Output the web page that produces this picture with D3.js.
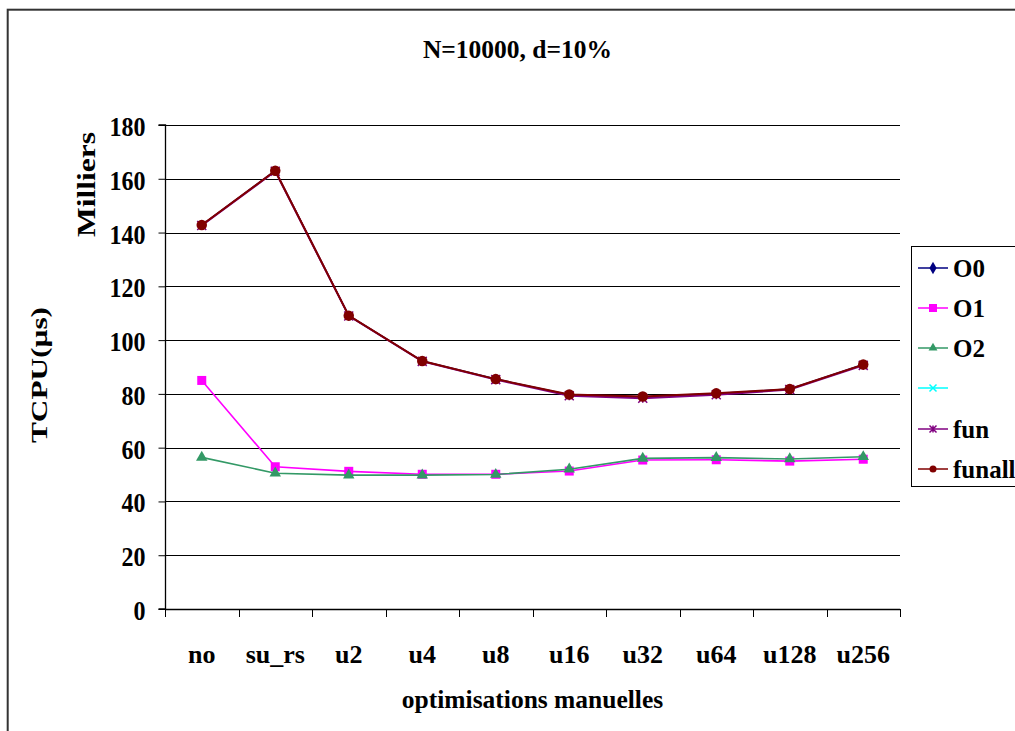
<!DOCTYPE html>
<html><head><meta charset="utf-8">
<script src="https://cdn.jsdelivr.net/npm/d3@7"></script>
<style>body{margin:0;background:#fff}svg{display:block}text{font-family:"Liberation Serif","Times New Roman",serif;font-weight:bold;fill:#000}</style>
</head><body><svg id="c" width="1015" height="731"></svg>
<script>
const title = "N=10000, d=10%";
const categories = ["no","su_rs","u2","u4","u8","u16","u32","u64","u128","u256"];
const yTicks = [0,20,40,60,80,100,120,140,160,180];
const seriesNames = ["O0","O1","O2","","fun","funall"];
const seriesColors = ["#000080","#ff00ff","#339966","#00ffff","#800080","#800000"];
const seriesMarkers = ["diamond","square","triangle","x","star","circle"];
const O0 = [142.8,163.0,109.1,92.2,85.5,79.7,78.9,80.1,81.8,90.9];
const O1 = [85.0,52.9,51.2,50.1,50.1,51.3,55.4,55.5,55.0,55.7];
const O2 = [56.4,50.5,49.8,49.8,50.0,52.0,56.0,56.3,55.8,56.6];
const blank = [];
const fun = [142.6,162.8,109.0,92.1,85.3,79.3,78.4,79.7,81.6,90.6];
const funall = [142.8,163.0,109.1,92.2,85.5,79.8,79.0,80.2,81.8,90.9];
const seriesValues = [O0,O1,O2,blank,fun,funall];

const svg = d3.select("#c");
const L=165,R=900,T=125,B=609;
const x = d3.scaleBand().domain(categories).range([L,R]);
const y = d3.scaleLinear().domain([0,180]).range([B,T]);

// outer frame
svg.append("rect").attr("x",7.7).attr("y",9.7).attr("width",1030).attr("height",740).attr("fill","#fff").attr("stroke","#333").attr("stroke-width",2);

svg.append("text").attr("x",517.5).attr("y",58).attr("text-anchor","middle").attr("font-size",25.5).text(title);

// grid
svg.append("g").selectAll("line").data(yTicks.filter(d=>d>0)).join("line")
  .attr("x1",L).attr("x2",R).attr("y1",d=>Math.round(y(d))+0.5).attr("y2",d=>Math.round(y(d))+0.5)
  .attr("stroke","#000").attr("stroke-width",1);

// y axis
const ya = svg.append("g").attr("transform",`translate(${L+0.5},0)`)
  .call(d3.axisLeft(y).tickValues(yTicks).tickSize(7).tickPadding(4));
ya.select(".domain").attr("stroke","#000").attr("stroke-width",1.3).attr("d",`M-7,${B}H0V${T}H-7`);
ya.selectAll(".tick line").attr("stroke","#000");
ya.selectAll("text").attr("x",0).attr("dy",null).attr("y",null)
  .attr("transform","translate(-20,10.5) scale(1,1.15)")
  .attr("font-size",24).attr("font-family","Liberation Serif").attr("font-weight","bold").attr("fill","#000");

// x axis
const xa = svg.append("g").attr("transform",`translate(0,${B+0.5})`)
  .call(d3.axisBottom(x).tickSize(0).tickPadding(0));
xa.select(".domain").attr("stroke","#000").attr("stroke-width",1.3).attr("d",`M${L},0H${R}`);
xa.selectAll("text").attr("y",53).attr("dy",null)
  .attr("font-size",26).attr("font-family","Liberation Serif").attr("font-weight","bold").attr("fill","#000");
const tickPos = categories.map(c=>x(c)).concat([R]);
svg.append("g").selectAll("line").data(tickPos).join("line")
  .attr("x1",d=>Math.round(d)+0.5).attr("x2",d=>Math.round(d)+0.5).attr("y1",B).attr("y2",B+8).attr("stroke","#000");

svg.append("text").attr("x",532.5).attr("y",708).attr("text-anchor","middle").attr("font-size",25.5).text("optimisations manuelles");
svg.append("text").attr("transform","translate(47,375) rotate(-90)").attr("text-anchor","middle").attr("font-size",23)
  .attr("textLength",136).attr("lengthAdjust","spacingAndGlyphs").text("TCPU(µs)");
svg.append("text").attr("transform","translate(95,184.5) rotate(-90)").attr("text-anchor","middle").attr("font-size",25.5)
  .attr("textLength",105).attr("lengthAdjust","spacingAndGlyphs").text("Milliers");

function marker(g,type,color,cx,cy,s){
  if(type==="diamond") g.append("path").attr("d",d3.symbol(d3.symbolDiamond,s*s*0.9)()).attr("transform",`translate(${cx},${cy})`).attr("fill",color);
  else if(type==="square") g.append("rect").attr("x",cx-s/2).attr("y",cy-s/2).attr("width",s).attr("height",s).attr("fill",color);
  else if(type==="triangle") g.append("path").attr("d",d3.symbol(d3.symbolTriangle,s*s*0.7)()).attr("transform",`translate(${cx},${cy})`).attr("fill",color);
  else if(type==="x") g.append("path").attr("d",`M${cx-s/2},${cy-s/2}L${cx+s/2},${cy+s/2}M${cx-s/2},${cy+s/2}L${cx+s/2},${cy-s/2}`).attr("stroke",color).attr("stroke-width",1.5);
  else if(type==="star") g.append("path").attr("d",`M${cx-s/2},${cy-s/2}L${cx+s/2},${cy+s/2}M${cx-s/2},${cy+s/2}L${cx+s/2},${cy-s/2}M${cx},${cy-s/2}L${cx},${cy+s/2}`).attr("stroke",color).attr("stroke-width",1.5);
  else if(type==="circle") g.append("circle").attr("cx",cx).attr("cy",cy).attr("r",s/2).attr("fill",color);
}
const cx = c => x(c)+x.bandwidth()/2;
const line = d3.line().x((d,i)=>cx(categories[i])).y(d=>y(d));
const widths=[1.5,1.6,1.6,1.5,2,2];
const msize=[5,9,9,9,9,10.5];
seriesValues.forEach((vals,k)=>{
  if(!vals.length) return;
  const g=svg.append("g");
  g.append("path").datum(vals).attr("d",line).attr("fill","none").attr("stroke",seriesColors[k]).attr("stroke-width",widths[k]);
  vals.forEach((v,i)=>marker(g,seriesMarkers[k],seriesColors[k],cx(categories[i]),y(v),msize[k]));
});

// legend
const lg = svg.append("g");
lg.append("rect").attr("x",911.5).attr("y",246.5).attr("width",120).attr("height",240).attr("fill","#fff").attr("stroke","#000").attr("stroke-width",1);
const ly=[268,308,348,388,429,469];
seriesNames.forEach((n,k)=>{
  lg.append("line").attr("x1",918).attr("x2",948).attr("y1",ly[k]).attr("y2",ly[k]).attr("stroke",seriesColors[k]).attr("stroke-width",1.5);
  marker(lg,seriesMarkers[k],seriesColors[k],933,ly[k],k===1?8:7);
  lg.append("text").attr("x",953).attr("y",ly[k]+9).attr("font-size",25).text(n);
});
</script></body></html>
